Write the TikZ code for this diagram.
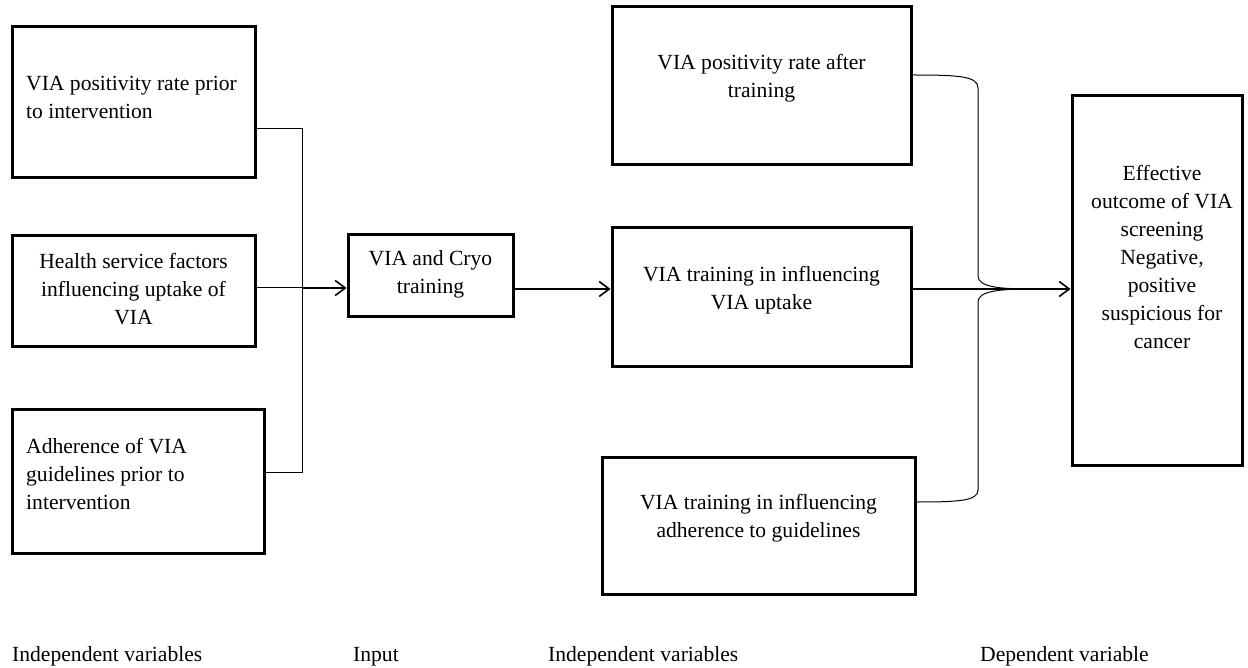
\documentclass[tikz,border=0pt]{standalone}
\usepackage{fontspec}
\setmainfont{Liberation Serif}
\usetikzlibrary{arrows.meta,calc}
\begin{document}
\begin{tikzpicture}[x=1pt,y=-1pt,
  box/.style={draw, line width=3pt, inner sep=0pt},
  txt/.style={inner sep=0pt, font=\fontsize{21.6}{28}\selectfont},
  thinline/.style={line width=1pt},
  arr/.style={line width=1.6pt, -{Straight Barb[length=10pt,width=15pt,line width=1.6pt]}},
]
\useasboundingbox (0,0) rectangle (1248,668);
% boxes
\node[box, minimum width=243pt, minimum height=151pt] (l1) at (133.5,102.5) {};
\node[box, minimum width=243pt, minimum height=111pt] (l2) at (133.5,291.5) {};
\node[box, minimum width=252pt, minimum height=144pt] (l3) at (138,481) {};
\node[box, minimum width=165pt, minimum height=82pt] (cryo) at (430.5,276) {};
\node[box, minimum width=299pt, minimum height=158pt] (m1) at (761.5,86) {};
\node[box, minimum width=299pt, minimum height=139pt] (m2) at (761.5,297.5) {};
\node[box, minimum width=313pt, minimum height=137pt] (m3) at (758.5,525.5) {};
\node[box, minimum width=170pt, minimum height=369pt] (r) at (1157,280.5) {};
% texts
\node[txt, anchor=west, align=left] (l1t) at (26,97) {VIA positivity rate prior\\to intervention};
\node[txt, align=center] (l2t) at (133.5,289) {Health service factors\\influencing uptake of\\VIA};
\node[txt, anchor=west, align=left] (l3t) at (26,474) {Adherence of VIA\\guidelines prior to\\intervention};
\node[txt, align=center] (cryot) at (430.5,274) {VIA and Cryo\\training};
\node[txt, align=center] (m1t) at (761.5,78) {VIA positivity rate after\\training};
\node[txt, align=center] (m2t) at (761.5,290) {VIA training in influencing\\VIA uptake};
\node[txt, align=center] (m3t) at (758.5,518) {VIA training in influencing\\adherence to guidelines};
\node[txt, align=center] (rt) at (1162,257) {Effective\\outcome of VIA\\screening\\Negative,\\positive\\suspicious for\\cancer};
% bottom labels
\node[txt, anchor=base west] (c1) at (12,661) {Independent variables};
\node[txt, anchor=base west] (c2) at (353,661) {Input};
\node[txt, anchor=base west] (c3) at (548,661) {Independent variables};
\node[txt, anchor=base west] (c4) at (980,661) {Dependent variable};
% junction points
\coordinate (jt) at (302,129);
\coordinate (jm) at (302,288);
\coordinate (jb) at (302,472);
\coordinate (ax) at (0,289);
\coordinate (bt) at (978,75);
\coordinate (bb) at (978,502);
\coordinate (mg) at (1030,289);
% connectors
\draw[thinline] (jt -| l1.east) -- (jt) -- (jb) -- (jb -| l3.east);
\draw[thinline] (jm -| l2.east) -- (jm);
\draw[arr] (jm) -- (jm -| cryo.west);
\draw[arr] (cryo.east |- ax) -- (m2.west |- ax);
\draw[arr] (m2.east |- ax) -- (r.west |- ax);
\draw[thinline] (m1.east |- bt) .. controls (958,75) and (978,76) .. (978,88) -- (978,276) .. controls (978,287) and (1000,289) .. (mg);
\draw[thinline] (m3.east |- bb) .. controls (958,502) and (978,501) .. (978,490) -- (978,302) .. controls (978,291) and (1000,289) .. (mg);
\end{tikzpicture}
\end{document}
